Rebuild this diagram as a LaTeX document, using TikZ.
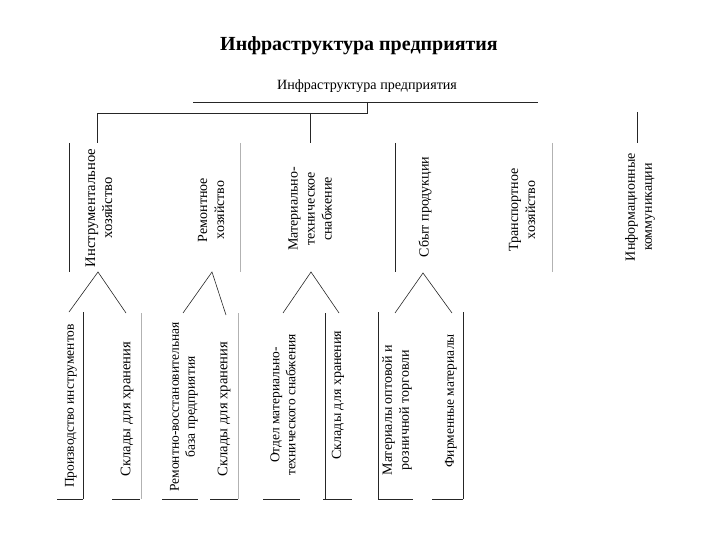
\documentclass[tikz,border=0pt]{standalone}
\usepackage{fontspec}
\setmainfont{Liberation Serif}
\begin{document}
\begin{tikzpicture}[x=1pt,y=-1pt,
  lbl/.style={rotate=90, align=center, inner sep=0pt, font=\fontsize{14}{17}\selectfont},
  lblb/.style={lbl, font=\fontsize{14.6}{17}\selectfont},
  lbls/.style={lbl, font=\fontsize{13.5}{16}\selectfont},
  dk/.style={draw=black!85, line width=0.7pt},
  lt/.style={draw=black!30, line width=0.6pt},
  leg/.style={draw=black!85, line width=0.6pt}]
\useasboundingbox (0,0) rectangle (720,540);
% titles
\node[font=\bfseries\fontsize{20}{22}\selectfont] (title) at (359,46) {Инфраструктура предприятия};
\node[font=\fontsize{14.1}{16}\selectfont] (root) at (367,86) {Инфраструктура предприятия};
% top row labels
\node[lblb] (t1) at (99,208) {Инструментальное\\хозяйство};
\node[lbl] (t2) at (211,210) {Ремонтное\\хозяйство};
\node[lbl] (t3) at (310,209) {Материально-\\техническое\\снабжение};
\node[lbl] (t4) at (425,207) {Сбыт продукции};
\node[lbl] (t5) at (522,210) {Транспортное\\хозяйство};
\node[lbl] (t6) at (640,207) {Информационные\\коммуникации};
% bottom row labels
\node[lbls] (b1) at (71,406) {Производство инструментов};
\node[lblb] (b2) at (127,409) {Склады для хранения};
\node[lbls] (b3) at (184,407) {Ремонтно-восстановительная\\база предприятия};
\node[lblb] (b4) at (224,409) {Склады для хранения};
\node[lbls] (b5) at (283,405) {Отдел материально-\\технического снабжения};
\node[lbl] (b6) at (338,395) {Склады для хранения};
\node[lbl] (b7) at (397,410) {Материалы оптовой и\\розничной торговли};
\node[lbls] (b8) at (451,401) {Фирменные материалы};
% connector coordinates
\coordinate (r0) at (367,102);
\coordinate (r1) at (367,113);
\coordinate (h1) at (97,113);
\coordinate (t1top) at (97,143);
\coordinate (h3) at (310,113);
\coordinate (t3top) at (310,143);
\coordinate (h6) at (637,112);
\coordinate (t6top) at (637,143);
\coordinate (a1) at (98,272);
\coordinate (b1top) at (69,312);
\coordinate (b2top) at (126,313);
\coordinate (a2) at (212,272);
\coordinate (b3top) at (183,313);
\coordinate (b4top) at (226,315);
\coordinate (a3) at (311,272);
\coordinate (b5top) at (283,313);
\coordinate (b6top) at (339,313);
\coordinate (a4) at (423,273);
\coordinate (b7top) at (395,313);
\coordinate (b8top) at (452,313);
% root underline and tree
\draw[dk] (193,102) -- (538,102);
\draw[dk] (r0) -- (r1) -- (h1) -- (t1top);
\draw[dk] (h3) -- (t3top);
\draw[dk] (h6) -- (t6top);
% top row frame lines
\draw[dk] (69,143) -- (69,272);
\draw[lt] (240,143) -- (240,272);
\draw[dk] (395,143) -- (395,272);
\draw[lt] (552,143) -- (552,272);
% legs
\draw[leg] (b1top) -- (a1) -- (b2top);
\draw[leg] (b3top) -- (a2) -- (b4top);
\draw[leg] (b5top) -- (a3) -- (b6top);
\draw[leg] (b7top) -- (a4) -- (b8top);
% bottom row frame lines
\draw[dk] (83,312) -- (83,499);
\draw[lt] (141,313) -- (141,499);
\draw[lt] (238,313) -- (238,499);
\draw[dk] (325,313) -- (325,499);
\draw[dk] (378,312) -- (378,499);
\draw[dk] (463,312) -- (463,499);
\foreach \xa/\xb in {57/83,112/140,162/198,210/238,263/300,323/352,378/413,432/463}
  \draw[dk] (\xa,499) -- (\xb,499);
\end{tikzpicture}
\end{document}
